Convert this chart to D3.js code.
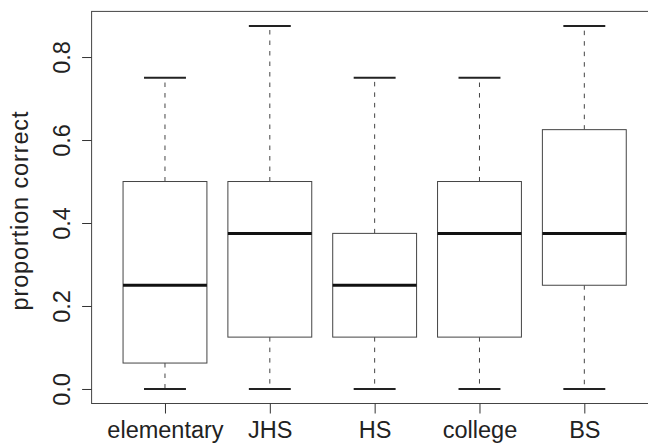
<!DOCTYPE html>
<html><head><meta charset="utf-8">
<script src="https://cdn.jsdelivr.net/npm/d3@7"></script>
<style>html,body{margin:0;padding:0;background:#fff;}svg{display:block;}</style>
</head><body>
<svg id="c" width="648" height="444"></svg>
<script>
const categories = ["elementary", "JHS", "HS", "college", "BS"];
const mins    = [0, 0, 0, 0, 0];
const q1s     = [0.0625, 0.125, 0.125, 0.125, 0.25];
const medians = [0.25, 0.375, 0.25, 0.375, 0.375];
const q3s     = [0.5, 0.5, 0.375, 0.5, 0.625];
const maxs    = [0.75, 0.875, 0.75, 0.75, 0.875];
const yTicks  = [0, 0.2, 0.4, 0.6, 0.8];
const yLabels = ["0.0", "0.2", "0.4", "0.6", "0.8"];
const yTitle  = "proportion correct";

const svg = d3.select("#c");
const font = "'Liberation Sans', Arial, Helvetica, sans-serif";
const fs = 23.5;

const x = d3.scaleLinear().domain([0.3, 5.7]).range([91.6, 657.7]);
const y = d3.scaleLinear().domain([-0.035, 0.91]).range([403.5, 11.4]);
const step = x(2) - x(1);
const boxW = step * 0.8, capW = boxW * 0.5;

const data = categories.map((c, i) => ({c, i: i + 1, min: mins[i], q1: q1s[i], med: medians[i], q3: q3s[i], max: maxs[i]}));

const g = svg.append("g");
// whiskers
g.selectAll(".wl").data(data).join("line")
  .attr("x1", d => x(d.i)).attr("x2", d => x(d.i))
  .attr("y1", d => y(d.q3)).attr("y2", d => y(d.max))
  .attr("stroke", "#444").attr("stroke-width", 1).attr("stroke-dasharray", "4.5,6");
g.selectAll(".wu").data(data).join("line")
  .attr("x1", d => x(d.i)).attr("x2", d => x(d.i))
  .attr("y1", d => y(d.q1)).attr("y2", d => y(d.min))
  .attr("stroke", "#444").attr("stroke-width", 1).attr("stroke-dasharray", "4.5,6");
// caps
["min", "max"].forEach(k => {
  g.selectAll(".cap" + k).data(data).join("line")
    .attr("x1", d => x(d.i) - capW / 2).attr("x2", d => x(d.i) + capW / 2)
    .attr("y1", d => y(d[k])).attr("y2", d => y(d[k]))
    .attr("stroke", "#222").attr("stroke-width", 2);
});
// boxes
g.selectAll("rect").data(data).join("rect")
  .attr("x", d => x(d.i) - boxW / 2).attr("width", boxW)
  .attr("y", d => y(d.q3)).attr("height", d => y(d.q1) - y(d.q3))
  .attr("fill", "#fff").attr("stroke", "#444").attr("stroke-width", 1);
// medians
g.selectAll(".med").data(data).join("line")
  .attr("x1", d => x(d.i) - boxW / 2).attr("x2", d => x(d.i) + boxW / 2)
  .attr("y1", d => y(d.med)).attr("y2", d => y(d.med))
  .attr("stroke", "#111").attr("stroke-width", 3);

// plot frame
svg.append("rect").attr("x", x(0.3)).attr("y", y(0.91))
  .attr("width", x(5.7) - x(0.3)).attr("height", y(-0.035) - y(0.91))
  .attr("fill", "none").attr("stroke", "#444").attr("stroke-width", 1);

// y axis
const ya = svg.append("g").attr("transform", `translate(${x(0.3)},0)`)
  .call(d3.axisLeft(y).tickValues(yTicks).tickSize(9.5).tickFormat((d, i) => yLabels[i]));
ya.select(".domain").remove();
ya.selectAll(".tick line").attr("stroke", "#333");
ya.selectAll(".tick text")
  .attr("x", null).attr("dy", null)
  .attr("transform", "translate(-21.6,0) rotate(-90)")
  .attr("text-anchor", "middle")
  .style("font-family", font).style("font-size", fs + "px").attr("fill", "#222");

// x axis
const xa = svg.append("g").attr("transform", `translate(0,${y(-0.035)})`)
  .call(d3.axisBottom(x).tickValues(data.map(d => d.i)).tickSize(10).tickFormat((d, i) => categories[i]));
xa.select(".domain").remove();
xa.selectAll(".tick line").attr("stroke", "#333");
xa.selectAll(".tick text").attr("y", 34.5).attr("dy", null)
  .style("font-family", font).style("font-size", fs + "px").attr("fill", "#222");

// y title
svg.append("text")
  .attr("transform", `translate(28,211) rotate(-90)`)
  .attr("text-anchor", "middle")
  .attr("textLength", 199).attr("lengthAdjust", "spacing")
  .style("font-family", font).style("font-size", fs + "px").attr("fill", "#222")
  .text(yTitle);
</script>
</body></html>
